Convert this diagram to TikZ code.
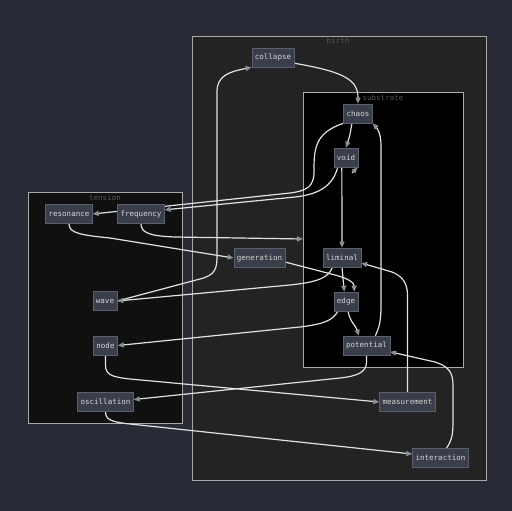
\documentclass[tikz,border=0pt]{standalone}
\usepackage{fontspec}
\newfontfamily\monofont{DejaVu Sans Mono}
\usetikzlibrary{arrows.meta}
\definecolor{bgc}{HTML}{282B35}
\definecolor{birthc}{HTML}{232323}
\definecolor{tensionc}{HTML}{101010}
\definecolor{frame}{HTML}{A9A9A9}
\definecolor{labelc}{HTML}{555555}
\definecolor{boxfill}{HTML}{3A3D4A}
\definecolor{boxline}{HTML}{5B5F6E}
\definecolor{boxtext}{HTML}{D6D6D6}
\definecolor{wire}{HTML}{E2E2E2}
\definecolor{tipc}{HTML}{8C909C}
\pgfdeclarelayer{back}
\pgfdeclarelayer{clusters}
\pgfdeclarelayer{wires}
\pgfsetlayers{back,clusters,wires,main}

\begin{document}
\begin{tikzpicture}[x=1pt,y=-1pt,
  box/.style={draw=boxline, fill=boxfill, text=boxtext, line width=0.6pt,
    font=\monofont\fontsize{7.5}{9}\selectfont, minimum height=19pt,
    minimum width=24pt, inner xsep=3pt, inner ysep=0pt},
  cluster/.style={draw=frame, line width=0.6pt},
  clabel/.style={text=labelc, font=\monofont\fontsize{7.5}{9}\selectfont},
  link/.style={draw=wire, line width=1.2pt,
    -{Triangle[length=6pt,width=5pt,color=tipc]}}]
\useasboundingbox (0,0) rectangle (512,511);

\begin{pgfonlayer}{back}
\fill[bgc] (0,0) rectangle (512,511);
\end{pgfonlayer}
\begin{pgfonlayer}{clusters}
\draw[cluster, fill=birthc] (192,36) rectangle (486,480);
\draw[cluster, fill=black] (303,92) rectangle (463,367);
\draw[cluster, fill=tensionc] (28,192) rectangle (182,423);
\end{pgfonlayer}
\node[clabel] (birthlab) at (338,41) {birth};
\node[clabel] (substratelab) at (383,97.5) {substrate};
\node[clabel] (tensionlab) at (105,197.5) {tension};

\node[box] (collapse) at (273,57.5) {collapse};
\node[box] (chaos) at (358,113.5) {chaos};
\node[box] (void) at (346,157.5) {void};
\node[box] (resonance) at (69,214) {resonance};
\node[box] (frequency) at (141,214) {frequency};
\node[box] (generation) at (259.5,258) {generation};
\node[box] (liminal) at (342,257.5) {liminal};
\node[box] (wave) at (105,301) {wave};
\node[box] (edge) at (346,301.5) {edge};
\node[box] (node) at (105.5,345.5) {node};
\node[box] (potential) at (366.5,345.5) {potential};
\node[box] (oscillation) at (105.5,402) {oscillation};
\node[box] (measurement) at (407.5,402) {measurement};
\node[box] (interaction) at (440.5,458) {interaction};
\coordinate (subin) at (303,239);
\coordinate (vtip) at (352,173);

\begin{pgfonlayer}{wires}
\draw[link] (collapse.-15) .. controls (345,72) and (358,80) .. (chaos.north);
\draw[link] (chaos.-122) .. controls (350,135) .. (void.north);
\draw[link] (chaos.south west) .. controls (314,133) and (314,150) .. (314,172)
  .. controls (314,187) and (306,191) .. (290,193) -- (resonance.east);
\draw[link] (void.-130) .. controls (333,184) and (322,194) .. (295,197) -- (frequency.10);
\draw[link] (void.-113) -- (liminal.north);
\draw[link] (frequency.south) .. controls (141,233) and (150,236) .. (175,237) -- (subin);
\draw[link] (resonance.south) .. controls (69,233) and (80,235) .. (110,238) -- (generation.west);
\draw[link] (wave.east) -- (200,279) .. controls (216,275) and (217,268) .. (217,255)
  -- (217,92) .. controls (217,76) and (228,72) .. (collapse.south west);
\draw[link] (liminal.-134) .. controls (328,278) and (318,282) .. (290,285) -- (wave.east);
\draw[link] (generation.-9) -- (335,275) .. controls (350,279) and (354,283) .. (edge.50);
\draw[link] (liminal.south) -- (edge.100);
\draw[link] (edge.-130) .. controls (333,320) and (325,324) .. (300,327) -- (node.east);
\draw[link] (edge.-78) .. controls (350,322) and (356,326) .. (potential.128);
\draw[link] (potential.48) .. controls (379,328) and (381,322) .. (381,305)
  -- (381,145) .. controls (381,132) and (376,127) .. (chaos.south east);
\draw[link] (measurement.north) -- (407.5,295) .. controls (407.5,283) and (402,276) .. (392,272)
  -- (liminal.-16);
\draw[link] (interaction.59) .. controls (452,440) and (453,435) .. (453,420)
  -- (453,385) .. controls (453,372) and (448,366) .. (435,362) -- (potential.-15);
\draw[link] (potential.south) -- (366.5,362) .. controls (366.5,372) and (358,376) .. (340,378)
  -- (oscillation.5);
\draw[link] (node.south) -- (105.5,365) .. controls (105.5,375) and (112,377) .. (130,379)
  -- (measurement.west);
\draw[link] (oscillation.south) .. controls (105.5,420) and (112,422) .. (130,424)
  -- (interaction.172);
\draw[link] (vtip) -- (void.-40);
\end{pgfonlayer}
\end{tikzpicture}
\end{document}
